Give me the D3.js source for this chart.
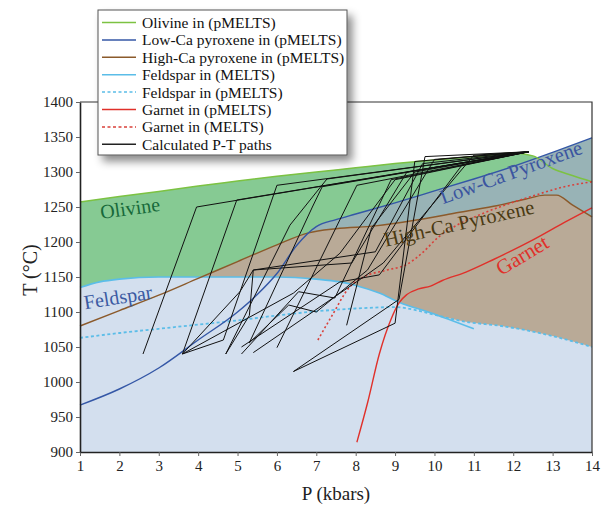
<!DOCTYPE html>
<html>
<head>
<meta charset="utf-8">
<script src="https://cdn.jsdelivr.net/npm/d3@7"></script>
<style>
  body { margin: 0; background: #fff; }
  text { font-family: "Liberation Serif", "Times New Roman", serif; }
</style>
</head>
<body>
<div id="chart-area"></div>
<script>
// phase boundaries, [P kbar, T C]
var olivine = [[1,1257],[2,1265],[3,1272],[4,1280],[5,1287],[6,1294],[7,1300],[8,1306],[9,1312],[10,1317],[11,1322],[12,1327],[12.5,1323],[13,1305],[13.5,1295],[14,1286]]
var lowCaPx = [[1,967],[2,990],[3,1020],[4,1060],[5,1100],[5.5,1125],[6,1155],[6.5,1195],[7,1222],[7.5,1232],[8,1240],[9,1256],[10,1273],[11,1290],[12,1308],[13,1328],[14,1349]]
var highCaPx = [[1,1080],[2,1102],[3,1124],[4,1148],[5,1172],[6,1196],[6.8,1213],[7.5,1219],[8.5,1223],[9.5,1231],[10.5,1241],[11.5,1251],[12.3,1261],[12.8,1267],[13.1,1267],[13.5,1253],[14,1236]]
var feldsparMelts = [[1,1135],[1.5,1143],[2,1147],[3,1150],[6,1150],[7,1147],[7.6,1143],[8,1138],[8.6,1127],[9.1,1114],[9.9,1099],[11,1076]]
var feldsparPmelts = [[1,1063],[2,1070],[3,1076],[4,1082],[5,1088],[6,1095],[7,1101],[8,1105],[9,1107],[9.5,1103],[10,1096],[10.8,1086],[11.7,1080],[12.9,1067],[14,1050]]
var garnetPmelts = [[8.03,914],[8.3,970],[8.6,1040],[8.9,1090],[9.1,1113],[9.3,1125],[9.6,1133],[9.9,1137],[10.2,1145],[10.8,1157],[11.5,1175],[12.5,1203],[13.3,1228],[14,1249]]
var garnetMelts = [[7.04,1060],[7.4,1095],[7.85,1136],[8.2,1150],[8.8,1160],[9.3,1168],[9.7,1185],[10.1,1207],[10.6,1225],[11.15,1239],[11.8,1253],[12.4,1264],[13.3,1279],[14,1286]]

// calculated P-T paths, all meeting at the source point
var src = [12.4, 1329]
var ptPaths = [
  [[2.6,1040],[3.96,1250],src],
  [[3.6,1040],[4.98,1260],src],
  [[3.6,1040],[4.64,1060],[6.0,1281],src],
  [[3.6,1040],[5.06,1129],[5.4,1160],[8.5,1186],[9.7,1312],src],
  [[3.6,1040],[6.42,1127],[7.6,1184],[9.0,1289],src],
  [[4.7,1040],[6.33,1224],[7.27,1290],src],
  [[5.1,1040],[6.55,1129],[7.47,1120],[8.9,1289],src],
  [[5.1,1050],[7.6,1143],[8.6,1153],[10.7,1310],src],
  [[5.4,1042],[8.2,1150],[8.7,1170],[11.0,1324],src],
  [[5.3,1056],[6.9,1250],[7.15,1279],src],
  [[6.0,1049],[8.03,1281],src],
  [[6.42,1015],[9.0,1084],[9.5,1315],src],
  [[6.42,1015],[9.1,1118],[9.76,1322],src],
  [[7.77,1081],[8.4,1220],[9.5,1300],src],
  [[5.3,1056],[6.3,1110],[7.0,1100],[8.3,1160],[10.0,1318],src],
  [[4.7,1040],[5.3,1095],[5.4,1160],[7.9,1170],[9.3,1300],src]
]

var xTicks = [1,2,3,4,5,6,7,8,9,10,11,12,13,14]
var yTicks = [900,950,1000,1050,1100,1150,1200,1250,1300,1350,1400]

var legendNames = ['Olivine in (pMELTS)','Low-Ca pyroxene in (pMELTS)','High-Ca pyroxene in (pMELTS)','Feldspar in (MELTS)','Feldspar in (pMELTS)','Garnet in (pMELTS)','Garnet in (MELTS)','Calculated P-T paths']
var legendColors = ['#7cc242','#3457a6','#8b5a2b','#5bbde8','#5bbde8','#e0302a','#d9403a','#222']
var legendDash = [null,null,null,null,'3,2.5',null,'3,2.5',null]

var width = 607
var height = 506
var m = { left: 80, right: 592, top: 102, bottom: 452 }

var svg = d3.select('#chart-area').append('svg')
    .attr('width', width)
    .attr('height', height)

var x = d3.scaleLinear().domain([1, 14]).range([m.left, m.right])
var y = d3.scaleLinear().domain([900, 1400]).range([m.bottom, m.top])

var area = d3.area().x(d => x(d[0])).y0(y(900)).y1(d => y(d[1])).curve(d3.curveMonotoneX)
var line = d3.line().x(d => x(d[0])).y(d => y(d[1])).curve(d3.curveMonotoneX)
var straight = d3.line().x(d => x(d[0])).y(d => y(d[1]))

// fields, painted from top boundary down
svg.append('path').attr('d', area(olivine)).attr('fill', '#86ca93')
svg.append('path').attr('d', area(lowCaPx)).attr('fill', '#98b3b6')
svg.append('path').attr('d', area(highCaPx)).attr('fill', '#b9aa97')
svg.append('path').attr('d', area(feldsparMelts)).attr('fill', '#d3dfee')
svg.append('path').attr('d', area(feldsparPmelts)).attr('fill', '#d3dfee')

function curve(data, color, dash, w) {
  svg.append('path').attr('d', line(data))
    .attr('fill', 'none')
    .attr('stroke', color)
    .attr('stroke-width', w || 1.4)
    .attr('stroke-dasharray', dash)
}

curve(feldsparPmelts, '#5bbde8', '3,2.5', 1.8)
curve(feldsparMelts, '#5bbde8', null, 1.6)
curve(highCaPx, '#8b5a2b', null, 1.4)
curve(lowCaPx, '#3457a6', null, 1.4)
curve(olivine, '#7cc242', null, 1.5)
curve(garnetMelts, '#d9403a', '2,2.5', 1.6)
curve(garnetPmelts, '#e0302a', null, 1.4)

svg.append('g').selectAll('path').data(ptPaths).enter()
  .append('path')
    .attr('d', straight)
    .attr('fill', 'none')
    .attr('stroke', '#111')
    .attr('stroke-width', 1)
    .attr('stroke-linejoin', 'round')

// field names
var fieldLabels = [
  { t: 'Olivine', x: 130, y: 208, r: -8, c: '#17693a', s: 20 },
  { t: 'Feldspar', x: 118, y: 297, r: -9, c: '#3b5aa2', s: 20 },
  { t: 'Low-Ca Pyroxene', x: 511, y: 172, r: -20, c: '#3b55a0', s: 20.5 },
  { t: 'High-Ca Pyroxene', x: 459, y: 223, r: -12.6, c: '#4a3a12', s: 20.5 },
  { t: 'Garnet', x: 522, y: 255, r: -31, c: '#e0302a', s: 21 }
]
svg.append('g').selectAll('text').data(fieldLabels).enter()
  .append('text')
    .attr('transform', d => `translate(${d.x},${d.y}) rotate(${d.r})`)
    .attr('text-anchor', 'middle')
    .attr('dy', '0.35em')
    .attr('fill', d => d.c)
    .attr('font-size', d => d.s + 'px')
    .text(d => d.t)

// frame and axes
svg.append('path')
  .attr('d', `M${m.left},${m.top}H${m.right}V${m.bottom}`)
  .attr('fill', 'none').attr('stroke', '#333').attr('stroke-width', 1.2)

var xAxis = svg.append('g').attr('transform', `translate(0,${m.bottom})`)
  .call(d3.axisBottom(x).tickValues(xTicks).tickFormat(d3.format('d')).tickSize(4).tickPadding(4.5).tickSizeOuter(0))
var yAxis = svg.append('g').attr('transform', `translate(${m.left},0)`)
  .call(d3.axisLeft(y).tickValues(yTicks).tickFormat(d3.format('d')).tickSize(4).tickPadding(3).tickSizeOuter(0))

;[xAxis, yAxis].forEach(a => {
  a.select('.domain').attr('stroke', '#222').attr('stroke-width', 1.6)
  a.selectAll('.tick line').attr('stroke', '#666')
  a.selectAll('.tick text').attr('font-family', '"Liberation Serif", "Times New Roman", serif')
    .attr('font-size', '15px').attr('fill', '#222')
})

svg.append('text')
  .attr('x', (m.left + m.right) / 2).attr('y', 500)
  .attr('text-anchor', 'middle').attr('font-size', '19px').attr('fill', '#222')
  .text('P (kbars)')

svg.append('text')
  .attr('transform', 'translate(30,270) rotate(-90)')
  .attr('text-anchor', 'middle').attr('dy', '0.35em').attr('font-size', '20px').attr('fill', '#222')
  .text('T (°C)')

// legend with drop shadow
var defs = svg.append('defs')
var f = defs.append('filter').attr('id', 'shadow').attr('x', '-10%').attr('y', '-10%').attr('width', '130%').attr('height', '130%')
f.append('feDropShadow').attr('dx', 5).attr('dy', 6).attr('stdDeviation', 4)
  .attr('flood-color', '#000').attr('flood-opacity', 0.45)

var lg = svg.append('g')
lg.append('rect')
  .attr('x', 98).attr('y', 10).attr('width', 249).attr('height', 145)
  .attr('fill', '#fff').attr('stroke', '#555').attr('stroke-width', 1)
  .attr('filter', 'url(#shadow)')

var rows = lg.selectAll('g.row').data(legendNames).enter()
  .append('g').attr('class', 'row')
    .attr('transform', (d, i) => `translate(0,${22.5 + i * 17.4})`)

rows.append('line')
  .attr('x1', 102).attr('x2', 136)
  .attr('stroke', (d, i) => legendColors[i])
  .attr('stroke-width', 1.5)
  .attr('stroke-dasharray', (d, i) => legendDash[i])

rows.append('text')
  .attr('x', 142).attr('dy', '0.35em')
  .attr('font-size', '15.5px').attr('fill', '#111')
  .text(d => d)
</script>
</body>
</html>
